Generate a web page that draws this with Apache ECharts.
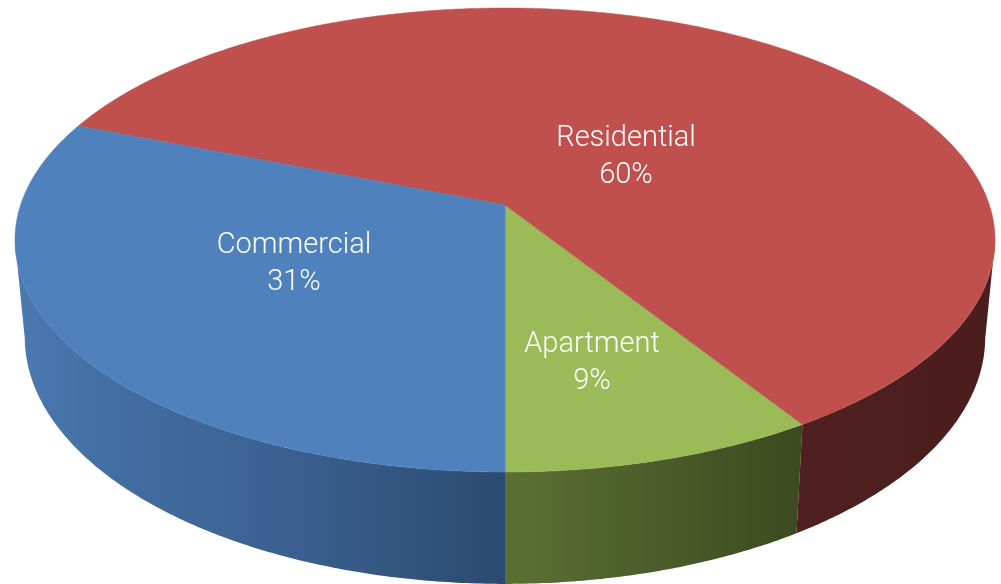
<!DOCTYPE html>
<html><head><meta charset="utf-8">
<style>html,body{margin:0;padding:0;background:#fff}#c{width:1001px;height:584px}</style>
<script src="https://cdn.jsdelivr.net/npm/echarts@6/dist/echarts.min.js"></script>
</head><body><div id="c"></div>
<script>
// Data, in drawing order (clockwise seen from above, starting at the front of the pie)
const categories = ['Apartment', 'Residential', 'Commercial'];
const values = [9, 60, 31];

// Styles and layout
const topColors = ['#9BBB59', '#C0504D', '#4F81BD'];
const wallStops = [
  [[0, '#5C7033'], [1, '#3C4A20']],
  [[0, '#4F201F'], [1, '#4A1E1D']],
  [[0, '#4B79B0'], [0.165, '#436FA3'], [0.58, '#3A5F8E'], [1, '#2B4A70']]
];
const wallSpans = [[505, 800], [800, 995], [20, 505]];
const labelCentres = [[592, 363], [626, 157], [294, 264]];

// Perspective of the pie: a unit circle (u, v) projected to the page
const cx = 505, cy = 205, sx = 484.4, ky = 195.8, persp = -0.1509;
const wallScale = 0.98, wallDepth = 95;
const VISIBLE = 81; // degrees either side of the front where the wall can be seen
const total = values.reduce((a, b) => a + b, 0);

function topPoint(deg, r) {
  const t = deg * Math.PI / 180, u = r * Math.sin(t), v = r * Math.cos(t), d = 1 + persp * v;
  return [cx + sx * u / d, (ky * v + cy) / d];
}
function lowPoint(deg) {
  const p = topPoint(deg, 1), d = 1 + persp * Math.cos(deg * Math.PI / 180);
  return [cx + wallScale * (p[0] - cx), p[1] + wallDepth / d];
}
function range(i) {
  let s = 0;
  for (let k = 0; k < i; k++) s += values[k];
  return [s / total * 360, (s + values[i]) / total * 360];
}
function arc(fn, a, b) {
  const n = Math.max(2, Math.ceil(Math.abs(b - a) / 0.5)), out = [];
  for (let i = 0; i <= n; i++) out.push(fn(a + (b - a) * i / n));
  return out;
}
function wallItem(params) {
  const i = params.dataIndex;
  let [a, b] = range(i);
  // keep only the part facing the viewer
  if (a < VISIBLE && b > VISIBLE) b = VISIBLE;
  if (a < 360 - VISIBLE && b > 360 - VISIBLE) a = 360 - VISIBLE;
  const pts = arc(d => topPoint(d, 1), a, b).concat(arc(lowPoint, b, a));
  const span = wallSpans[i];
  return {
    type: 'polygon', shape: { points: pts },
    style: {
      fill: new echarts.graphic.LinearGradient(span[0], 0, span[1], 0,
        wallStops[i].map(s => ({ offset: s[0], color: s[1] })), true),
      stroke: null
    }
  };
}
function topItem(params, api) {
  const i = params.dataIndex, [a, b] = range(i);
  const pts = [[cx, cy]].concat(arc(d => topPoint(d, 1), a, b));
  const pct = Math.round(api.value(1) / total * 100) + '%';
  const c = labelCentres[i];
  const font = '300 29px Roboto, sans-serif';
  return {
    type: 'group',
    children: [
      { type: 'polygon', shape: { points: pts }, style: { fill: topColors[i], stroke: topColors[i], lineWidth: 0.5 } },
      { type: 'text', z2: 10, style: { text: categories[i], x: c[0], y: c[1] - 18, fill: '#fff', font, textAlign: 'center', textVerticalAlign: 'middle' } },
      { type: 'text', z2: 10, style: { text: pct, x: c[0], y: c[1] + 19, fill: '#fff', font, textAlign: 'center', textVerticalAlign: 'middle' } }
    ]
  };
}
const seriesData = categories.map((n, i) => [n, values[i]]);
const chart = echarts.init(document.getElementById('c'), null, { renderer: 'canvas' });
chart.setOption({
  animation: false,
  backgroundColor: '#fff',
  series: [
    { type: 'custom', coordinateSystem: 'none', silent: true, z: 1, data: seriesData, renderItem: wallItem },
    { type: 'custom', coordinateSystem: 'none', silent: true, z: 2, data: seriesData, renderItem: topItem }
  ]
});
</script></body></html>
